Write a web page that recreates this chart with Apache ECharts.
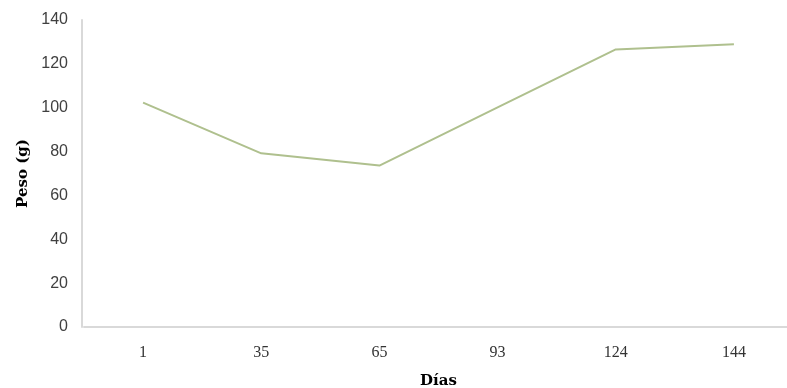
<!DOCTYPE html>
<html>
<head>
<meta charset="utf-8">
<script src="https://cdn.jsdelivr.net/npm/echarts@6/dist/echarts.min.js"></script>
<style>
html,body{margin:0;padding:0;background:#fff;}
#c{width:787px;height:388px;}
</style>
</head>
<body>
<div id="c"></div>
<script>
const categories = ['1', '35', '65', '93', '124', '144'];
const pesoValues = [102.3, 79.2, 73.6, 100.2, 126.6, 128.9];
const yTicks = { min: 0, max: 140, interval: 20 };

const chart = echarts.init(document.getElementById('c'));
chart.setOption({
  animation: false,
  backgroundColor: '#ffffff',
  grid: { left: 84, right: -6, top: 20, bottom: 61, outerBoundsMode: 'none', containLabel: false },
  xAxis: {
    type: 'category',
    data: categories,
    boundaryGap: true,
    name: 'Días',
    nameLocation: 'middle',
    nameGap: 47,
    nameTextStyle: { fontFamily: 'DejaVu Serif', fontWeight: 'bold', fontSize: 15, color: '#000' },
    axisLine: { lineStyle: { color: '#d9d9d9', width: 2 } },
    axisTick: { show: false },
    axisLabel: { fontFamily: 'Liberation Serif', fontSize: 16, color: '#333333', margin: 18 }
  },
  yAxis: {
    type: 'value',
    offset: 2,
    min: yTicks.min, max: yTicks.max, interval: yTicks.interval,
    name: 'Peso (g)',
    nameLocation: 'middle',
    nameGap: 50,
    nameRotate: 90,
    nameTextStyle: { fontFamily: 'DejaVu Serif', fontWeight: 'bold', fontSize: 15, color: '#000' },
    axisLine: { show: true, lineStyle: { color: '#d9d9d9', width: 2 } },
    axisTick: { show: false },
    splitLine: { show: false },
    axisLabel: { fontFamily: 'Liberation Sans', fontSize: 16, color: '#404040', margin: 14, padding: [5, 0, 0, 0] }
  },
  series: [{
    type: 'line',
    data: pesoValues,
    symbol: 'none',
    lineStyle: { color: '#afc08e', width: 2 },
    itemStyle: { color: '#afc08e' }
  }]
});
</script>
</body>
</html>
